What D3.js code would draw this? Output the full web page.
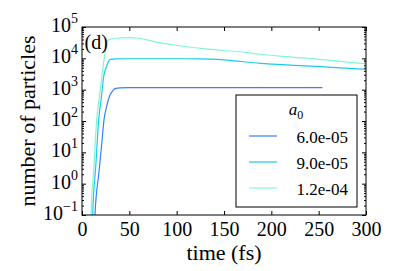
<!DOCTYPE html>
<html>
<head>
<meta charset="utf-8">
<script src="https://cdn.jsdelivr.net/npm/d3@7"></script>
<style>
  body { margin: 0; background: #fff; }
  svg text { fill: #000; }
</style>
</head>
<body>
<div id="chart"></div>
<script>
// values
const seriesLabels = ['6.0e-05', '9.0e-05', '1.2e-04'];
const seriesColors = ['#3480ff', '#1ccbec', '#80f8d0'];

const timeBlue = [13.5, 13.7, 18, 21, 23.2, 25.5, 27.5, 29.5, 31.7, 33.5, 35.9, 40, 50, 100, 150, 200, 254];
const countBlue = [0.01, 0.1, 2.4, 21, 107, 250, 437, 660, 851, 1000, 1096, 1140, 1155, 1165, 1165, 1165, 1165];

const timeCyan = [11.0, 11.3, 14.5, 17.6, 20.4, 23.2, 26, 28, 30.6, 35, 50, 100, 125, 150, 188, 230, 260, 300];
const countCyan = [0.01, 0.1, 3.5, 107, 560, 2951, 5600, 7900, 9300, 9600, 9700, 9700, 9600, 8900, 6918, 5888, 5248, 4467];

const timeAqua = [9.2, 9.5, 12.5, 15.5, 18.3, 21.1, 24, 26, 28, 31, 40, 50, 60, 70, 82, 100, 125, 150, 167, 188, 230, 260, 300];
const countAqua = [0.01, 0.1, 3.2, 107, 560, 2951, 12600, 31600, 38500, 41500, 44668, 45709, 43652, 38019, 31623, 25704, 20893, 17783, 16218, 13490, 10471, 8710, 6607];

const xTicks = [0, 50, 100, 150, 200, 250, 300];
const yExponents = [-1, 0, 1, 2, 3, 4, 5];

const series = [
    { label: seriesLabels[0], color: seriesColors[0], t: timeBlue, n: countBlue },
    { label: seriesLabels[1], color: seriesColors[1], t: timeCyan, n: countCyan },
    { label: seriesLabels[2], color: seriesColors[2], t: timeAqua, n: countAqua }
];

const serif = '"Liberation Serif"';

const totalWidth = 407;
const totalHeight = 271;

const leftMargin = 82;
const topMargin = 27;
const plotWidth = 284;
const plotHeight = 188;

const svg = d3.select('#chart')
    .append('svg')
    .attr('width', totalWidth)
    .attr('height', totalHeight)
    .style('font-family', serif);

const g = svg.append('g')
    .attr('transform', `translate(${leftMargin},${topMargin})`);

const xScale = d3.scaleLinear()
    .domain([0, 300])
    .range([0, plotWidth]);

const yScale = d3.scaleLog()
    .domain([0.1, 1e5])
    .range([plotHeight, 0]);

g.append('clipPath')
    .attr('id', 'plot-clip')
    .append('rect')
    .attr('width', plotWidth)
    .attr('height', plotHeight);

// minor log ticks 2..9 of each decade
const minorTicks = [];
yExponents.slice(0, -1).forEach(e => {
    for (let k = 2; k <= 9; k++) minorTicks.push(k * Math.pow(10, e));
});
const majorTicks = yExponents.map(e => Math.pow(10, e));

function styleAxis(sel) {
    sel.attr('font-family', null);
    sel.select('.domain').remove();
    sel.selectAll('line').attr('stroke', '#000').attr('stroke-width', 1);
}

// x ticks, bottom (with labels) and top
g.append('g')
    .attr('transform', `translate(0,${plotHeight})`)
    .call(d3.axisBottom(xScale).tickValues(xTicks).tickSize(-4).tickSizeOuter(0).tickPadding(7))
    .call(styleAxis)
    .selectAll('text')
    .style('font-family', serif)
    .style('font-size', '20px');

g.append('g')
    .call(d3.axisTop(xScale).tickValues(xTicks).tickSize(-4).tickSizeOuter(0).tickFormat(''))
    .call(styleAxis);

// y ticks, left and right, major and minor
g.append('g')
    .call(d3.axisLeft(yScale).tickValues(majorTicks).tickSize(-4).tickSizeOuter(0).tickFormat(''))
    .call(styleAxis);
g.append('g')
    .call(d3.axisLeft(yScale).tickValues(minorTicks).tickSize(-2).tickSizeOuter(0).tickFormat(''))
    .call(styleAxis);
g.append('g')
    .attr('transform', `translate(${plotWidth},0)`)
    .call(d3.axisRight(yScale).tickValues(majorTicks).tickSize(-4).tickSizeOuter(0).tickFormat(''))
    .call(styleAxis);
g.append('g')
    .attr('transform', `translate(${plotWidth},0)`)
    .call(d3.axisRight(yScale).tickValues(minorTicks).tickSize(-2).tickSizeOuter(0).tickFormat(''))
    .call(styleAxis);

// y tick labels as 10^n
const yLabels = g.append('g')
    .selectAll('text')
    .data(yExponents)
    .enter()
    .append('text')
    .attr('x', -4)
    .attr('y', d => yScale(Math.pow(10, d)) + 5)
    .attr('text-anchor', 'end')
    .style('font-family', serif)
    .style('font-size', '20px');
yLabels.append('tspan').text('10');
yLabels.append('tspan')
    .attr('dy', -9)
    .style('font-size', '14px')
    .text(d => String(d).replace('-', '\u2212'));

// lines
const line = d3.line()
    .curve(d3.curveMonotoneX)
    .x(d => xScale(d[0]))
    .y(d => yScale(d[1]));

g.append('g')
    .attr('clip-path', 'url(#plot-clip)')
    .selectAll('path')
    .data(series)
    .enter()
    .append('path')
    .attr('d', s => line(d3.zip(s.t, s.n)))
    .attr('fill', 'none')
    .attr('stroke', s => s.color)
    .attr('stroke-width', 1.2);

// frame
g.append('rect')
    .attr('width', plotWidth)
    .attr('height', plotHeight)
    .attr('fill', 'none')
    .attr('stroke', '#000')
    .attr('stroke-width', 1);

// panel tag
g.append('text')
    .attr('x', 2.5)
    .attr('y', 22)
    .style('font-family', serif)
    .style('font-size', '20px')
    .text('(d)');

// axis titles
svg.append('text')
    .attr('x', leftMargin + plotWidth / 2)
    .attr('y', 260)
    .attr('text-anchor', 'middle')
    .style('font-family', serif)
    .style('font-size', '22px')
    .text('time (fs)');

svg.append('text')
    .attr('transform', `translate(35,${topMargin + plotHeight / 2}) rotate(-90)`)
    .attr('text-anchor', 'middle')
    .style('font-family', serif)
    .style('font-size', '22px')
    .text('number of particles');

// legend
const legend = svg.append('g')
    .attr('transform', 'translate(236,95)');

legend.append('rect')
    .attr('width', 121)
    .attr('height', 112)
    .attr('fill', '#fff')
    .attr('stroke', '#000')
    .attr('stroke-width', 1);

const legendTitle = legend.append('text')
    .attr('x', 60)
    .attr('y', 20)
    .attr('text-anchor', 'middle')
    .style('font-family', serif)
    .style('font-size', '17px');
legendTitle.append('tspan').style('font-style', 'italic').text('a');
legendTitle.append('tspan').attr('dy', 4).style('font-size', '12px').text('0');

const entries = legend.selectAll('.entry')
    .data(series)
    .enter()
    .append('g')
    .attr('transform', (d, i) => `translate(0,${41 + i * 26})`);

entries.append('line')
    .attr('x1', 13)
    .attr('x2', 41)
    .attr('stroke', d => d.color)
    .attr('stroke-width', 1.2);

entries.append('text')
    .attr('x', 112)
    .attr('y', 7)
    .attr('text-anchor', 'end')
    .style('font-family', serif)
    .style('font-size', '17px')
    .text(d => d.label);
</script>
</body>
</html>
